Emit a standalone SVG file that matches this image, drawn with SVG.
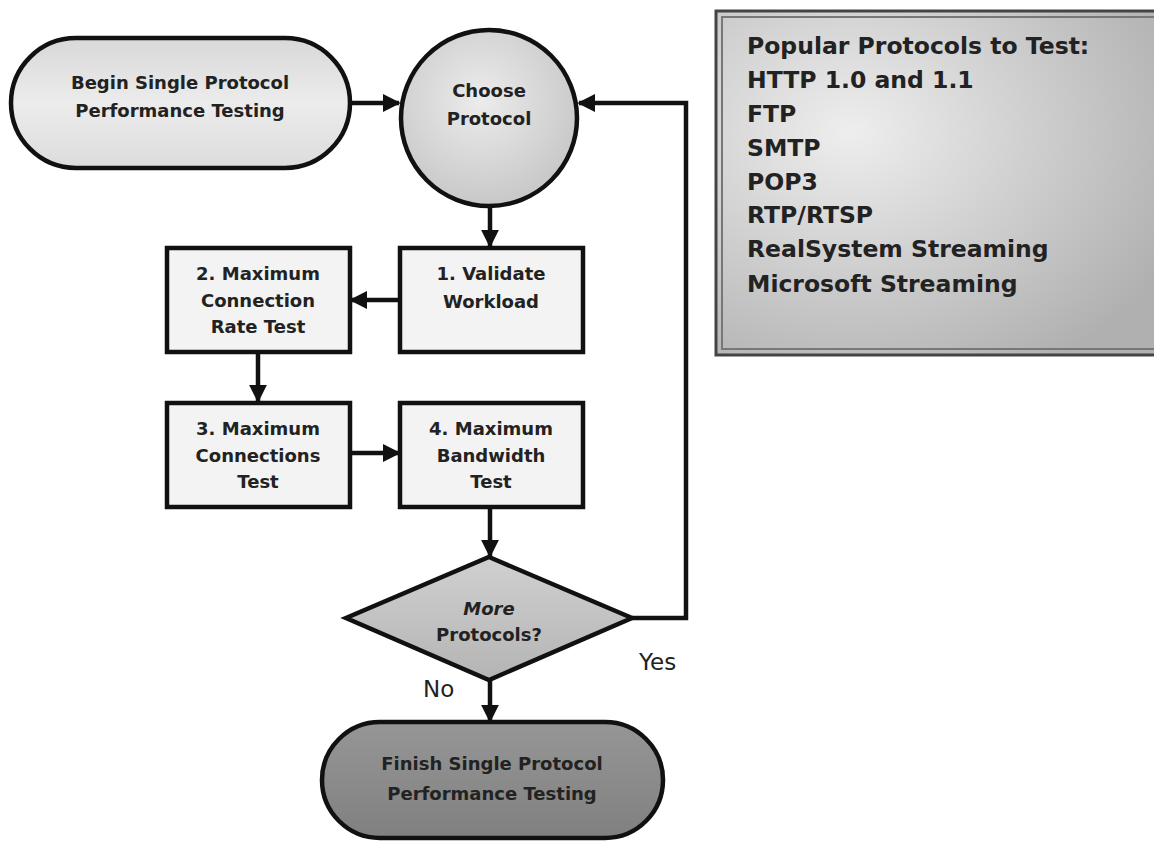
<svg xmlns="http://www.w3.org/2000/svg" width="1154" height="842" viewBox="0 0 1154 842">
<style>
.t{font-family:"DejaVu Sans",Verdana,sans-serif;font-weight:bold;fill:#222;text-anchor:middle;font-size:18px}
.n{stroke:#111;stroke-width:4.5}
.c{fill:none;stroke:#111;stroke-width:4.5}
.l{font-family:"DejaVu Sans",Verdana,sans-serif;fill:#222;font-size:23px}
.p{font-family:"DejaVu Sans",Verdana,sans-serif;font-weight:bold;fill:#222;font-size:23.5px}
</style>
<defs>
<linearGradient id="gBegin" x1="0" y1="0" x2="0" y2="1"><stop offset="0" stop-color="#d8d8d8"/><stop offset="0.5" stop-color="#ececec"/><stop offset="1" stop-color="#dcdcdc"/></linearGradient>
<radialGradient id="gCirc" cx="0.45" cy="0.4" r="0.6"><stop offset="0" stop-color="#ececec"/><stop offset="1" stop-color="#c8c8c8"/></radialGradient>
<linearGradient id="gDia" x1="0" y1="0" x2="0" y2="1"><stop offset="0" stop-color="#d0d0d0"/><stop offset="1" stop-color="#b4b4b4"/></linearGradient>
<linearGradient id="gFin" x1="0" y1="0" x2="0" y2="1"><stop offset="0" stop-color="#969696"/><stop offset="1" stop-color="#808080"/></linearGradient>
<radialGradient id="gInfo" cx="0.3" cy="0.35" r="0.8"><stop offset="0" stop-color="#eeeeee"/><stop offset="1" stop-color="#b0b0b0"/></radialGradient>
<marker id="ah" viewBox="0 0 10 10" refX="9" refY="5" markerWidth="4" markerHeight="4" orient="auto" markerUnits="strokeWidth"><path d="M0,0 L10,5 L0,10 z" fill="#111"/></marker>
</defs>
<rect width="1154" height="842" fill="#fff"/>

<g id="connectors">
<line class="c" x1="350" y1="103" x2="399" y2="103" marker-end="url(#ah)"/>
<line class="c" x1="490" y1="206" x2="490" y2="246" marker-end="url(#ah)"/>
<line class="c" x1="400" y1="300" x2="351" y2="300" marker-end="url(#ah)"/>
<line class="c" x1="258" y1="352" x2="258" y2="401" marker-end="url(#ah)"/>
<line class="c" x1="350" y1="453" x2="399" y2="453" marker-end="url(#ah)"/>
<line class="c" x1="490" y1="507" x2="490" y2="556" marker-end="url(#ah)"/>
<polyline class="c" points="632,618 686,618 686,103 579,103" marker-end="url(#ah)"/>
<line class="c" x1="490" y1="680" x2="490" y2="721" marker-end="url(#ah)"/>
<text class="l" x="639" y="670">Yes</text>
<text class="l" x="423" y="697">No</text>
</g>

<g id="begin">
<rect class="n" x="11" y="38" width="339" height="130" rx="65" fill="url(#gBegin)"/>
<text class="t" x="180" y="89">Begin Single Protocol</text>
<text class="t" x="180" y="117">Performance Testing</text>
</g>

<g id="choose">
<circle class="n" cx="489" cy="118" r="88" fill="url(#gCirc)"/>
<text class="t" x="489" y="97">Choose</text>
<text class="t" x="489" y="125">Protocol</text>
</g>

<g id="step1">
<rect class="n" x="400" y="248" width="183" height="104" fill="#f3f3f3"/>
<text class="t" x="491" y="280">1. Validate</text>
<text class="t" x="491" y="308">Workload</text>
</g>

<g id="step2">
<rect class="n" x="167" y="248" width="183" height="104" fill="#f3f3f3"/>
<text class="t" x="258" y="280">2. Maximum</text>
<text class="t" x="258" y="307">Connection</text>
<text class="t" x="258" y="333">Rate Test</text>
</g>

<g id="step3">
<rect class="n" x="167" y="403" width="183" height="104" fill="#f3f3f3"/>
<text class="t" x="258" y="435">3. Maximum</text>
<text class="t" x="258" y="462">Connections</text>
<text class="t" x="258" y="488">Test</text>
</g>

<g id="step4">
<rect class="n" x="400" y="403" width="183" height="104" fill="#f3f3f3"/>
<text class="t" x="491" y="435">4. Maximum</text>
<text class="t" x="491" y="462">Bandwidth</text>
<text class="t" x="491" y="488">Test</text>
</g>

<g id="decision">
<polygon class="n" points="489,557 632,618 489,680 346,618" fill="url(#gDia)"/>
<text class="t" x="489" y="615" font-style="italic">More</text>
<text class="t" x="489" y="641">Protocols?</text>
</g>

<g id="finish">
<rect class="n" x="322" y="722" width="341" height="116" rx="58" fill="url(#gFin)"/>
<text class="t" x="492" y="770">Finish Single Protocol</text>
<text class="t" x="492" y="800">Performance Testing</text>
</g>

<g id="info">
<rect x="716" y="11" width="450" height="344" fill="url(#gInfo)" stroke="#444" stroke-width="3"/>
<rect x="722" y="17" width="450" height="332" fill="none" stroke="#777" stroke-width="2"/>
<text class="p" x="747" y="54">Popular Protocols to Test:</text>
<text class="p" x="747" y="88">HTTP 1.0 and 1.1</text>
<text class="p" x="747" y="122">FTP</text>
<text class="p" x="747" y="156">SMTP</text>
<text class="p" x="747" y="190">POP3</text>
<text class="p" x="747" y="223">RTP/RTSP</text>
<text class="p" x="747" y="257">RealSystem Streaming</text>
<text class="p" x="747" y="292">Microsoft Streaming</text>
</g>
</svg>
